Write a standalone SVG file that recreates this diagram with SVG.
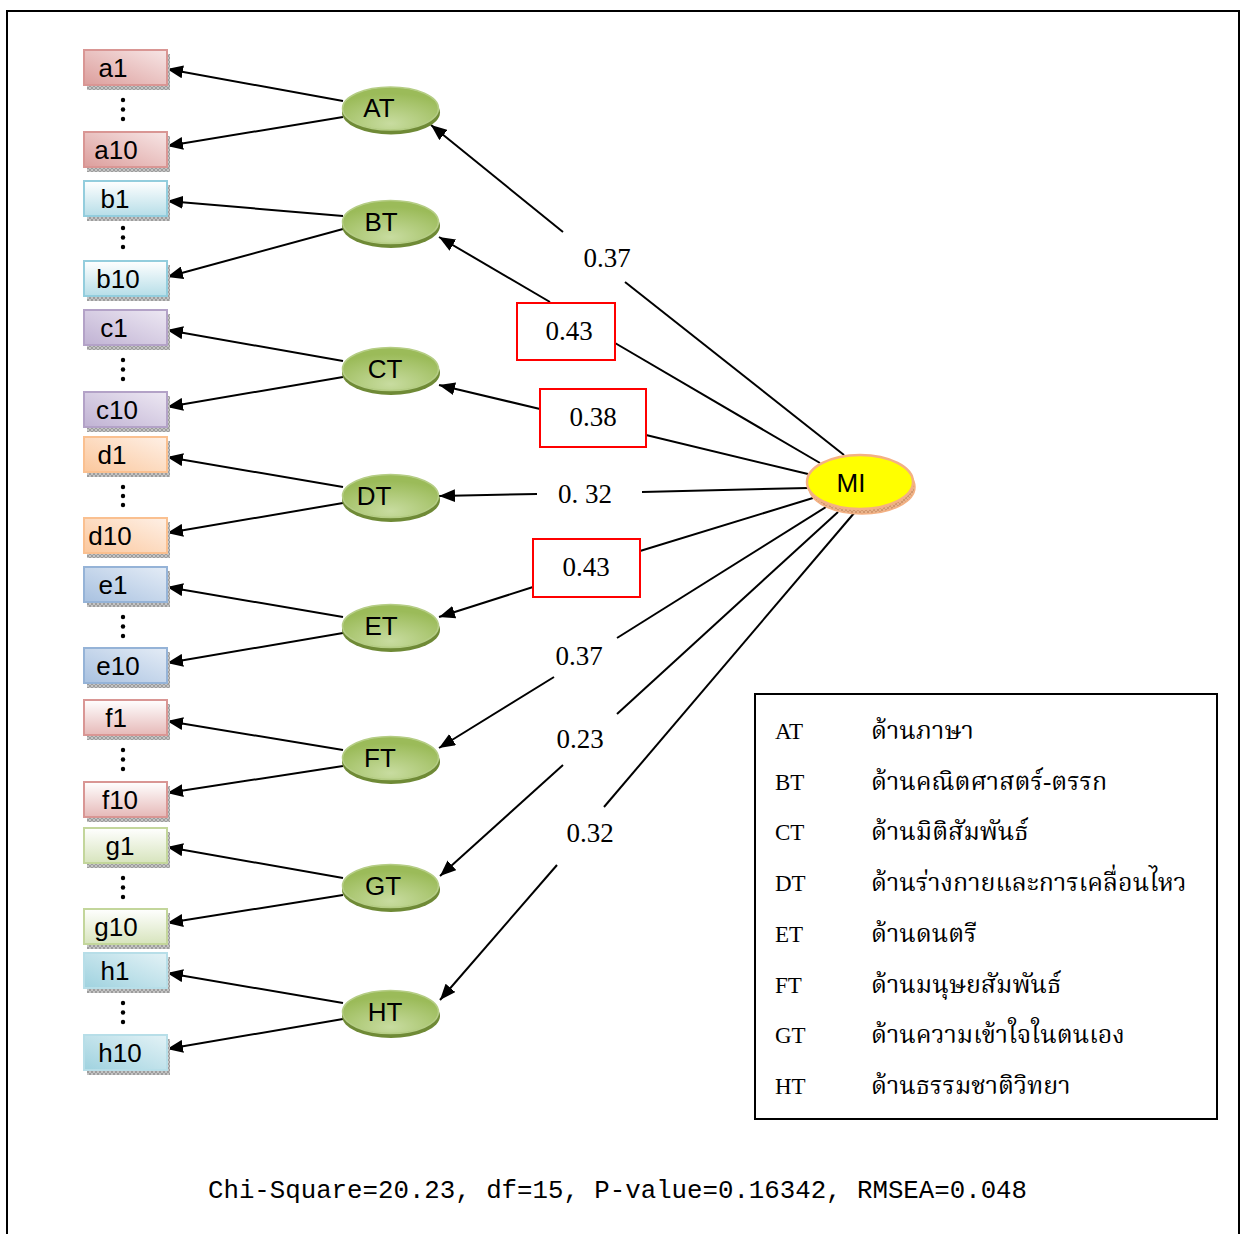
<svg xmlns="http://www.w3.org/2000/svg" width="1242" height="1234" viewBox="0 0 1242 1234">
<defs>
<style>
.box{stroke-width:2}
.bt{font-family:"Liberation Sans",Arial,sans-serif;font-size:26px;fill:#000;text-anchor:middle}
.lt{font-family:"Liberation Sans",Arial,sans-serif;font-size:26px;fill:#000;text-anchor:middle}
.edge{stroke:#000;stroke-width:2;fill:none}
.arr{marker-end:url(#ah)}
.num{font-family:"Liberation Serif","Times New Roman",serif;font-size:27px;fill:#000;text-anchor:middle}
.lbox{fill:#fff;stroke:#ff0000;stroke-width:2}
.leg{font-family:"Liberation Serif","Times New Roman",serif;font-size:23px;fill:#000}
.th{font-family:"Liberation Serif","Noto Serif Thai","Noto Sans Thai","Noto Sans",serif;font-size:25px;fill:#000}
.dot{fill:#000}
.sh{fill:url(#hatch)}
</style>
<pattern id="hatch" width="4" height="4" patternUnits="userSpaceOnUse">
<rect width="4" height="4" fill="#c4c4c4"/>
<path d="M0,4 L4,0 M0,0 L4,4" stroke="#8c8c8c" stroke-width="0.7"/>
</pattern>
<pattern id="hatchO" width="4" height="4" patternUnits="userSpaceOnUse">
<rect width="4" height="4" fill="#e8b48c"/>
<path d="M0,4 L4,0 M0,0 L4,4" stroke="#c88a60" stroke-width="0.7"/>
</pattern>
<marker id="ah" markerWidth="17" markerHeight="13" refX="16" refY="6.5" orient="auto" markerUnits="userSpaceOnUse">
<path d="M0,0 L16,6.5 L0,13 z" fill="#000"/>
</marker>
<linearGradient id="gA" x1="0" y1="1" x2="1" y2="0"><stop offset="0" stop-color="#dc9e9c"/><stop offset="1" stop-color="#f7e6e6"/></linearGradient>
<linearGradient id="gB" x1="0" y1="0" x2="0" y2="1"><stop offset="0" stop-color="#ffffff"/><stop offset="1" stop-color="#b7dee8"/></linearGradient>
<linearGradient id="gC" x1="0" y1="1" x2="1" y2="0"><stop offset="0" stop-color="#c0b2d3"/><stop offset="1" stop-color="#ede8f3"/></linearGradient>
<linearGradient id="gD" x1="0" y1="1" x2="1" y2="0"><stop offset="0" stop-color="#fbc79c"/><stop offset="1" stop-color="#fef0e6"/></linearGradient>
<linearGradient id="gE" x1="0" y1="1" x2="1" y2="0"><stop offset="0" stop-color="#a8c1e0"/><stop offset="1" stop-color="#e4ecf6"/></linearGradient>
<linearGradient id="gF" x1="0" y1="0" x2="0" y2="1"><stop offset="0" stop-color="#ffffff"/><stop offset="1" stop-color="#e6b9b8"/></linearGradient>
<linearGradient id="gG" x1="0" y1="0" x2="0" y2="1"><stop offset="0" stop-color="#ffffff"/><stop offset="1" stop-color="#d7e4bd"/></linearGradient>
<linearGradient id="gH" x1="0" y1="1" x2="1" y2="0"><stop offset="0" stop-color="#9fd2df"/><stop offset="1" stop-color="#e3f2f6"/></linearGradient>
<radialGradient id="gL" cx="0.5" cy="0.85" r="0.7"><stop offset="0" stop-color="#c8dca0"/><stop offset="1" stop-color="#9bbb59"/></radialGradient>
</defs>
<rect x="0" y="0" width="1242" height="1234" fill="#fff"/>
<rect x="7" y="11" width="1232" height="1240" fill="none" stroke="#000" stroke-width="2"/>

<g id="connectors">
<line class="edge arr" x1="343" y1="101" x2="167" y2="69"/>
<line class="edge arr" x1="343" y1="117" x2="167" y2="146"/>
<line class="edge arr" x1="343" y1="216" x2="167" y2="201"/>
<line class="edge arr" x1="343" y1="229" x2="167" y2="277"/>
<line class="edge arr" x1="343" y1="361" x2="167" y2="330"/>
<line class="edge arr" x1="343" y1="377" x2="167" y2="407"/>
<line class="edge arr" x1="343" y1="487" x2="167" y2="457"/>
<line class="edge arr" x1="343" y1="503" x2="167" y2="533"/>
<line class="edge arr" x1="343" y1="617" x2="167" y2="587"/>
<line class="edge arr" x1="343" y1="633" x2="167" y2="663"/>
<line class="edge arr" x1="343" y1="750" x2="167" y2="721"/>
<line class="edge arr" x1="343" y1="766" x2="167" y2="793"/>
<line class="edge arr" x1="343" y1="878" x2="167" y2="847"/>
<line class="edge arr" x1="343" y1="895" x2="167" y2="923"/>
<line class="edge arr" x1="343" y1="1003" x2="167" y2="973"/>
<line class="edge arr" x1="343" y1="1019" x2="167" y2="1049"/>
<line class="edge" x1="844" y1="455" x2="625" y2="282"/>
<line class="edge arr" x1="563" y1="232" x2="431" y2="125"/>
<line class="edge" x1="820" y1="463" x2="615" y2="343"/>
<line class="edge arr" x1="550" y1="302" x2="439" y2="237"/>
<line class="edge" x1="808" y1="474" x2="646" y2="435"/>
<line class="edge arr" x1="540" y1="409" x2="439" y2="385"/>
<line class="edge" x1="808" y1="488" x2="642" y2="492"/>
<line class="edge arr" x1="537" y1="494" x2="439" y2="496"/>
<line class="edge" x1="813" y1="498" x2="640" y2="551"/>
<line class="edge arr" x1="533" y1="587" x2="439" y2="617"/>
<line class="edge" x1="826" y1="507" x2="617" y2="638"/>
<line class="edge arr" x1="554" y1="677" x2="439" y2="748"/>
<line class="edge" x1="838" y1="512" x2="617" y2="714"/>
<line class="edge arr" x1="563" y1="765" x2="440" y2="876"/>
<line class="edge" x1="855" y1="512" x2="604" y2="807"/>
<line class="edge arr" x1="557" y1="865" x2="440" y2="1000"/>
</g>

<g id="path-labels">
<text class="num" x="607" y="267">0.37</text>
<rect class="lbox" x="517" y="303" width="98" height="57"/>
<text class="num" x="569" y="340">0.43</text>
<rect class="lbox" x="540" y="389" width="106" height="58"/>
<text class="num" x="593" y="426">0.38</text>
<text class="num" x="585" y="503" xml:space="preserve">0. 32</text>
<rect class="lbox" x="533" y="539" width="107" height="58"/>
<text class="num" x="586" y="576">0.43</text>
<text class="num" x="579" y="665">0.37</text>
<text class="num" x="580" y="748">0.23</text>
<text class="num" x="590" y="842">0.32</text>
</g>

<g id="a1"><rect class="sh" x="87" y="84" width="83" height="6"/><rect class="sh" x="166" y="54" width="4" height="36"/><rect class="box" x="84" y="50" width="83" height="35" fill="url(#gA)" stroke="#d99694"/><text class="bt" x="113" y="77">a1</text></g>
<g id="a10"><rect class="sh" x="87" y="166" width="83" height="6"/><rect class="sh" x="166" y="136" width="4" height="36"/><rect class="box" x="84" y="132" width="83" height="35" fill="url(#gA)" stroke="#d99694"/><text class="bt" x="116" y="159">a10</text></g>
<g id="b1"><rect class="sh" x="87" y="215" width="83" height="6"/><rect class="sh" x="166" y="185" width="4" height="36"/><rect class="box" x="84" y="181" width="83" height="35" fill="url(#gB)" stroke="#93cddd"/><text class="bt" x="115" y="208">b1</text></g>
<g id="b10"><rect class="sh" x="87" y="295" width="83" height="6"/><rect class="sh" x="166" y="265" width="4" height="36"/><rect class="box" x="84" y="261" width="83" height="35" fill="url(#gB)" stroke="#93cddd"/><text class="bt" x="118" y="288">b10</text></g>
<g id="c1"><rect class="sh" x="87" y="344" width="83" height="6"/><rect class="sh" x="166" y="314" width="4" height="36"/><rect class="box" x="84" y="310" width="83" height="35" fill="url(#gC)" stroke="#b3a2c7"/><text class="bt" x="114" y="337">c1</text></g>
<g id="c10"><rect class="sh" x="87" y="426" width="83" height="6"/><rect class="sh" x="166" y="396" width="4" height="36"/><rect class="box" x="84" y="392" width="83" height="35" fill="url(#gC)" stroke="#b3a2c7"/><text class="bt" x="117" y="419">c10</text></g>
<g id="d1"><rect class="sh" x="87" y="471" width="83" height="6"/><rect class="sh" x="166" y="441" width="4" height="36"/><rect class="box" x="84" y="437" width="83" height="35" fill="url(#gD)" stroke="#fac090"/><text class="bt" x="112" y="464">d1</text></g>
<g id="d10"><rect class="sh" x="87" y="552" width="83" height="6"/><rect class="sh" x="166" y="522" width="4" height="36"/><rect class="box" x="84" y="518" width="83" height="35" fill="url(#gD)" stroke="#fac090"/><text class="bt" x="110" y="545">d10</text></g>
<g id="e1"><rect class="sh" x="87" y="601" width="83" height="6"/><rect class="sh" x="166" y="571" width="4" height="36"/><rect class="box" x="84" y="567" width="83" height="35" fill="url(#gE)" stroke="#95b3d7"/><text class="bt" x="113" y="594">e1</text></g>
<g id="e10"><rect class="sh" x="87" y="682" width="83" height="6"/><rect class="sh" x="166" y="652" width="4" height="36"/><rect class="box" x="84" y="648" width="83" height="35" fill="url(#gE)" stroke="#95b3d7"/><text class="bt" x="118" y="675">e10</text></g>
<g id="f1"><rect class="sh" x="87" y="734" width="83" height="6"/><rect class="sh" x="166" y="704" width="4" height="36"/><rect class="box" x="84" y="700" width="83" height="35" fill="url(#gF)" stroke="#d99694"/><text class="bt" x="116" y="727">f1</text></g>
<g id="f10"><rect class="sh" x="87" y="816" width="83" height="6"/><rect class="sh" x="166" y="786" width="4" height="36"/><rect class="box" x="84" y="782" width="83" height="35" fill="url(#gF)" stroke="#d99694"/><text class="bt" x="120" y="809">f10</text></g>
<g id="g1"><rect class="sh" x="87" y="862" width="83" height="6"/><rect class="sh" x="166" y="832" width="4" height="36"/><rect class="box" x="84" y="828" width="83" height="35" fill="url(#gG)" stroke="#c3d69b"/><text class="bt" x="120" y="855">g1</text></g>
<g id="g10"><rect class="sh" x="87" y="943" width="83" height="6"/><rect class="sh" x="166" y="913" width="4" height="36"/><rect class="box" x="84" y="909" width="83" height="35" fill="url(#gG)" stroke="#c3d69b"/><text class="bt" x="116" y="936">g10</text></g>
<g id="h1"><rect class="sh" x="87" y="987" width="83" height="6"/><rect class="sh" x="166" y="957" width="4" height="36"/><rect class="box" x="84" y="953" width="83" height="35" fill="url(#gH)" stroke="#b7dee8"/><text class="bt" x="115" y="980">h1</text></g>
<g id="h10"><rect class="sh" x="87" y="1069" width="83" height="6"/><rect class="sh" x="166" y="1039" width="4" height="36"/><rect class="box" x="84" y="1035" width="83" height="35" fill="url(#gH)" stroke="#b7dee8"/><text class="bt" x="120" y="1062">h10</text></g>

<g id="dots">
<circle class="dot" cx="123" cy="100" r="2.2"/><circle class="dot" cx="123" cy="109.5" r="2.2"/><circle class="dot" cx="123" cy="119" r="2.2"/>
<circle class="dot" cx="123" cy="228" r="2.2"/><circle class="dot" cx="123" cy="237.5" r="2.2"/><circle class="dot" cx="123" cy="247" r="2.2"/>
<circle class="dot" cx="123" cy="360" r="2.2"/><circle class="dot" cx="123" cy="369.5" r="2.2"/><circle class="dot" cx="123" cy="379" r="2.2"/>
<circle class="dot" cx="123" cy="487" r="2.2"/><circle class="dot" cx="123" cy="496" r="2.2"/><circle class="dot" cx="123" cy="505" r="2.2"/>
<circle class="dot" cx="123" cy="617" r="2.2"/><circle class="dot" cx="123" cy="626.5" r="2.2"/><circle class="dot" cx="123" cy="636" r="2.2"/>
<circle class="dot" cx="123" cy="750" r="2.2"/><circle class="dot" cx="123" cy="759.5" r="2.2"/><circle class="dot" cx="123" cy="769" r="2.2"/>
<circle class="dot" cx="123" cy="878" r="2.2"/><circle class="dot" cx="123" cy="887.5" r="2.2"/><circle class="dot" cx="123" cy="897" r="2.2"/>
<circle class="dot" cx="123" cy="1003" r="2.2"/><circle class="dot" cx="123" cy="1012.5" r="2.2"/><circle class="dot" cx="123" cy="1022" r="2.2"/>
</g>

<g id="AT"><ellipse cx="391" cy="112.5" rx="49" ry="22" fill="#6f8a36"/><ellipse cx="390.5" cy="108.5" rx="48" ry="21.5" fill="url(#gL)" stroke="#b5cd85" stroke-width="1.5"/><text class="lt" x="379" y="117">AT</text></g>
<g id="BT"><ellipse cx="391" cy="226" rx="49" ry="22" fill="#6f8a36"/><ellipse cx="390.5" cy="222" rx="48" ry="21.5" fill="url(#gL)" stroke="#b5cd85" stroke-width="1.5"/><text class="lt" x="381" y="231">BT</text></g>
<g id="CT"><ellipse cx="391" cy="373" rx="49" ry="22" fill="#6f8a36"/><ellipse cx="390.5" cy="369" rx="48" ry="21.5" fill="url(#gL)" stroke="#b5cd85" stroke-width="1.5"/><text class="lt" x="385" y="378">CT</text></g>
<g id="DT"><ellipse cx="391" cy="500" rx="49" ry="22" fill="#6f8a36"/><ellipse cx="390.5" cy="496" rx="48" ry="21.5" fill="url(#gL)" stroke="#b5cd85" stroke-width="1.5"/><text class="lt" x="374" y="505">DT</text></g>
<g id="ET"><ellipse cx="391" cy="630" rx="49" ry="22" fill="#6f8a36"/><ellipse cx="390.5" cy="626" rx="48" ry="21.5" fill="url(#gL)" stroke="#b5cd85" stroke-width="1.5"/><text class="lt" x="381" y="635">ET</text></g>
<g id="FT"><ellipse cx="391" cy="762" rx="49" ry="22" fill="#6f8a36"/><ellipse cx="390.5" cy="758" rx="48" ry="21.5" fill="url(#gL)" stroke="#b5cd85" stroke-width="1.5"/><text class="lt" x="380" y="767">FT</text></g>
<g id="GT"><ellipse cx="391" cy="890" rx="49" ry="22" fill="#6f8a36"/><ellipse cx="390.5" cy="886" rx="48" ry="21.5" fill="url(#gL)" stroke="#b5cd85" stroke-width="1.5"/><text class="lt" x="383" y="895">GT</text></g>
<g id="HT"><ellipse cx="391" cy="1016" rx="49" ry="22" fill="#6f8a36"/><ellipse cx="390.5" cy="1012" rx="48" ry="21.5" fill="url(#gL)" stroke="#b5cd85" stroke-width="1.5"/><text class="lt" x="385" y="1021">HT</text></g>

<g id="MI"><ellipse cx="862" cy="487" rx="53" ry="27" fill="url(#hatchO)" stroke="#f4b183" stroke-width="1.5"/><ellipse cx="860" cy="482" rx="53" ry="27" fill="#ffff00" stroke="#f4b183" stroke-width="2.5"/><text class="lt" x="851" y="492">MI</text></g>

<g id="legend">
<rect x="755" y="694" width="462" height="425" fill="#fff" stroke="#000" stroke-width="2"/>
<text class="leg" x="775" y="739">AT</text><text class="th" x="871" y="739">ด้านภาษา</text>
<text class="leg" x="775" y="790">BT</text><text class="th" x="871" y="790">ด้านคณิตศาสตร์-ตรรก</text>
<text class="leg" x="775" y="840">CT</text><text class="th" x="871" y="840">ด้านมิติสัมพันธ์</text>
<text class="leg" x="775" y="891">DT</text><text class="th" x="871" y="891">ด้านร่างกายและการเคลื่อนไหว</text>
<text class="leg" x="775" y="942">ET</text><text class="th" x="871" y="942">ด้านดนตรี</text>
<text class="leg" x="775" y="993">FT</text><text class="th" x="871" y="993">ด้านมนุษยสัมพันธ์</text>
<text class="leg" x="775" y="1043">GT</text><text class="th" x="871" y="1043">ด้านความเข้าใจในตนเอง</text>
<text class="leg" x="775" y="1094">HT</text><text class="th" x="871" y="1094">ด้านธรรมชาติวิทยา</text>
</g>

<text x="208" y="1198" font-family="'Liberation Mono','Courier New',monospace" font-size="25" textLength="819" lengthAdjust="spacingAndGlyphs" fill="#000">Chi-Square=20.23, df=15, P-value=0.16342, RMSEA=0.048</text>
</svg>
